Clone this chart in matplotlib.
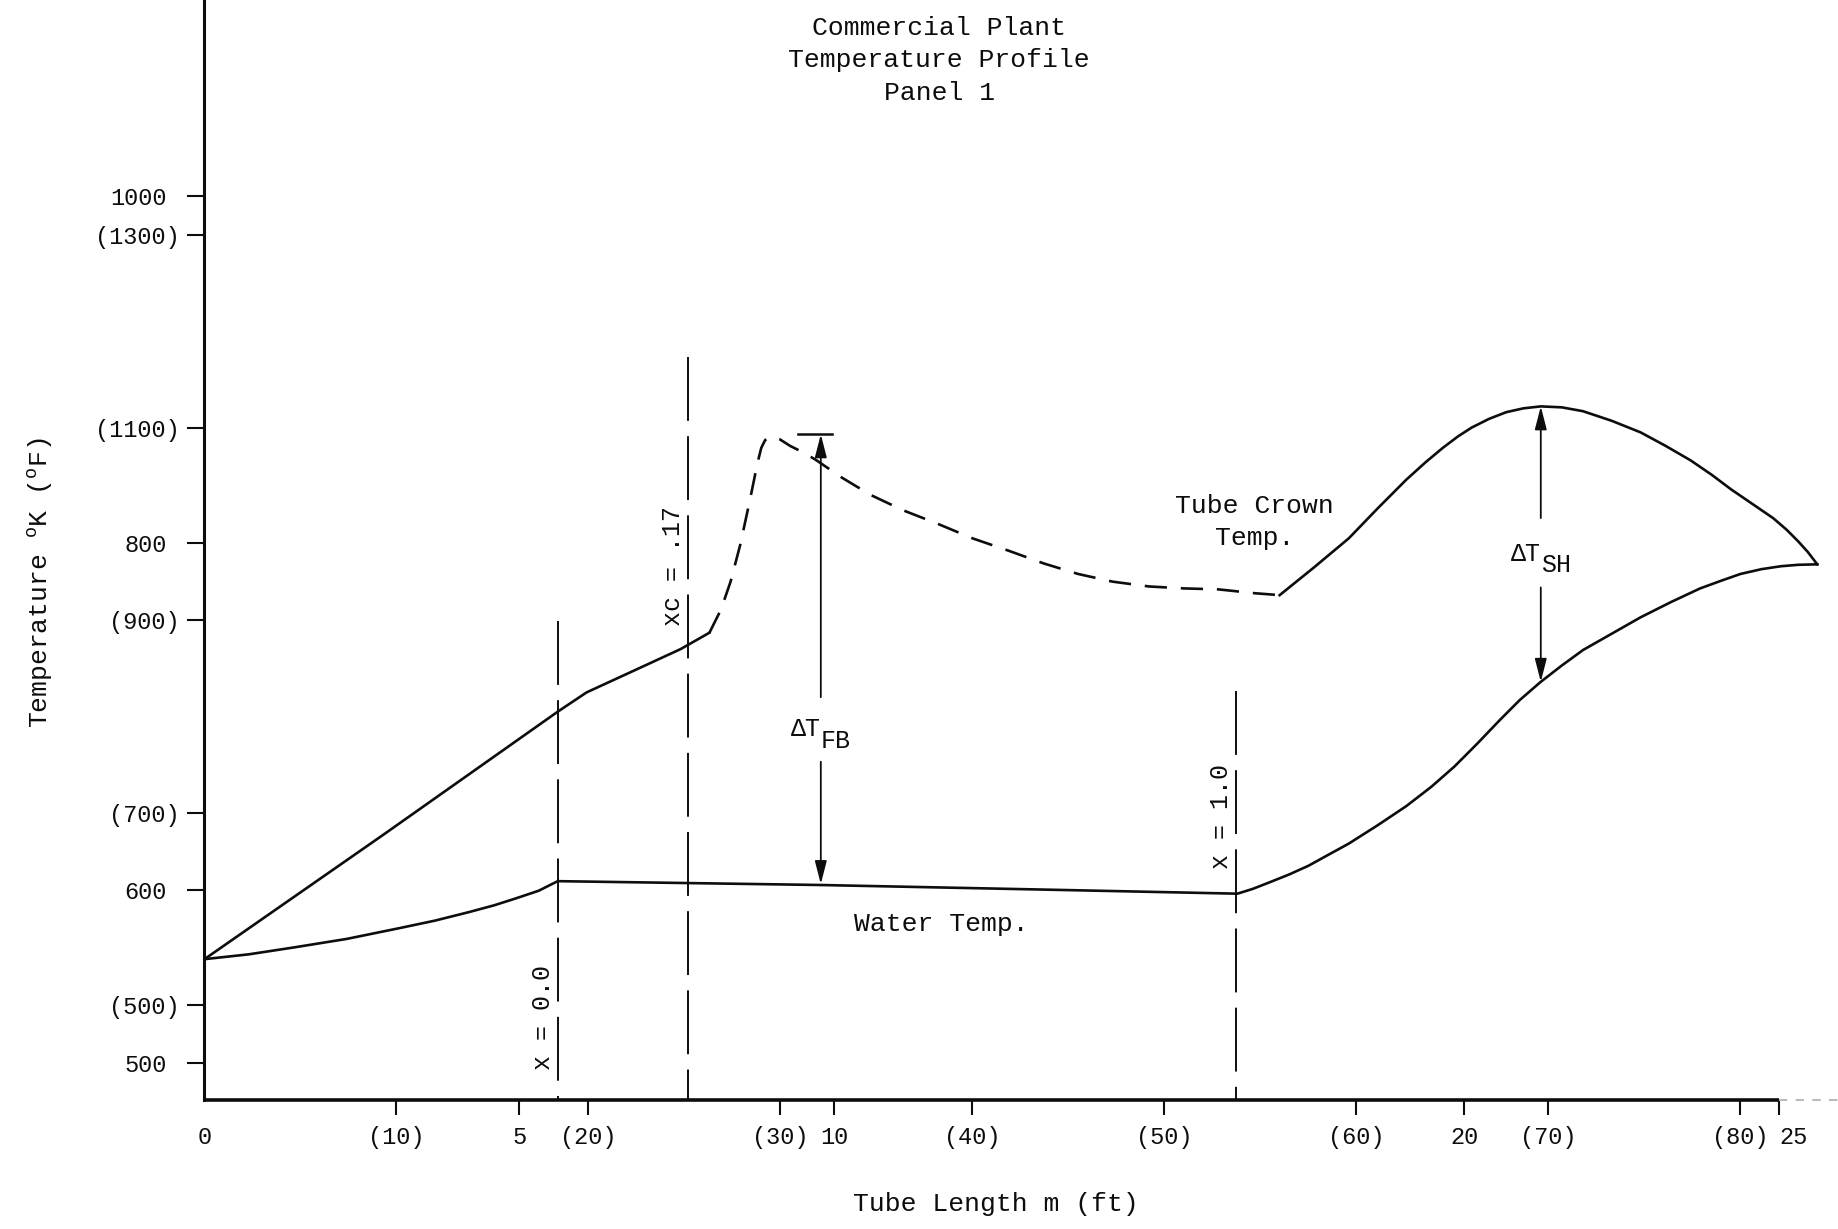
import numpy as np
import matplotlib.pyplot as plt

plt.rcParams['font.family'] = ['Liberation Mono', 'DejaVu Sans Mono']
plt.rcParams['mathtext.fontset'] = 'custom'
plt.rcParams['mathtext.rm'] = 'Liberation Mono'
plt.rcParams['mathtext.it'] = 'Liberation Mono:italic'
plt.rcParams['lines.scale_dashes'] = False

FT_PER_M = 1 / 0.3048

# water temperature along the tube, ft / deg F
water_ft = [0.0, 2.3, 4.6, 7.4, 10.1, 12.0, 13.8, 15.1, 16.2, 17.4, 18.4,
            32.1, 44.3, 53.8, 54.6, 55.5, 56.5, 57.5, 58.5, 59.6, 61.1, 62.6,
            63.9, 65.1, 66.3, 67.5, 68.5, 69.6, 70.7, 71.8, 73.3, 74.8, 76.4,
            77.9, 79.0, 80.0, 81.1, 82.1, 83.0, 84.0]
water_F = [548, 553, 560, 569, 580, 588, 597, 604, 611, 619, 629,
           625, 620, 616, 621, 628, 636, 645, 656, 668, 687, 707,
           727, 748, 772, 797, 817, 836, 853, 869, 886, 903, 919,
           933, 941, 948, 953, 956, 957.5, 958]

# tube crown temperature: nucleate boiling part (solid)
crown1_ft = [0.0, 9.3, 18.4, 19.9, 22.3, 24.8, 26.3]
crown1_F = [548, 677, 805, 825, 847, 870, 887]
# film boiling part (dashed)
crown2_ft = [26.3, 26.9, 27.4, 27.9, 28.4, 28.8, 29.0, 29.2, 29.45, 29.7,
             29.95, 30.5, 31.2, 31.8, 33.2, 34.7, 36.4, 38.2, 40.0, 41.9,
             43.7, 45.5, 47.3, 49.2, 51.0, 52.8, 54.7, 56.0]
crown2_F = [887, 911, 940, 978, 1024, 1063, 1079, 1087, 1090, 1090,
            1088, 1081, 1074, 1067, 1048, 1030, 1014, 1000, 985, 972,
            959, 948, 940, 935, 933, 932, 928, 926]
# superheated steam part (solid)
crown3_ft = [56.0, 57.8, 59.6, 61.1, 62.6, 63.6, 64.5, 65.3, 66.0, 66.9,
             67.8, 68.7, 69.6, 70.7, 71.8, 73.3, 74.8, 76.1, 77.4, 78.5,
             79.5, 80.6, 81.7, 82.4, 83.0, 83.5, 84.0]
crown3_F = [926, 955, 985, 1016, 1046, 1064, 1079, 1091, 1100, 1109,
            1116, 1120, 1122, 1121, 1117, 1107, 1095, 1081, 1066, 1051,
            1036, 1021, 1006, 994, 982, 971, 958]

# quality markers
quality_labels = ['x = 0.0', 'xc = .17', 'x = 1.0']
quality_ft = [18.4, 25.2, 53.7]
quality_top = [899, 1173, 826]
quality_text_F = [487, 956, 696]

# temperature differences
dtfb_ft, dtfb_top, dtfb_bot = 32.1, 1093, 626
dtfb_gap = (820, 753)
dtfb_cap = (30.9, 32.7)
dtsh_ft, dtsh_top, dtsh_bot = 69.6, 1122, 836
dtsh_gap = (1006, 934)

# axis ticks
kelvin_ticks = [1000, 800, 600, 500]
fahr_ticks = [1300, 1100, 900, 700, 500]
ft_ticks = [10, 20, 30, 40, 50, 60, 70, 80]
m_ticks = [5, 10, 20, 25]

xmin, xmax = 0, 85.08
ymin, ymax = 401.8, 1544

fig = plt.figure(figsize=(18.38, 12.29), dpi=100)
ax = fig.add_axes([0.11126, 0.1050, 0.88874, 0.8950])
ax.set_xlim(xmin, xmax)
ax.set_ylim(ymin, ymax)

ink = '#0d0d0d'

ax.plot(water_ft, water_F, color=ink, lw=1.9)
ax.plot(crown1_ft, crown1_F, color=ink, lw=1.9)
ax.plot(crown2_ft, crown2_F, color=ink, lw=1.9, linestyle=(0, (16, 10)))
ax.plot(crown3_ft, crown3_F, color=ink, lw=1.9)

# dashed quality lines, drawn top-down so each starts with a dash
for lab, xf, top, tf in zip(quality_labels, quality_ft, quality_top, quality_text_F):
    ax.plot([xf, xf], [top, ymin], color=ink, lw=1.4, linestyle=(0, (46, 11)))
    ax.text(xf - 0.15, tf, lab, rotation=90, ha='right', va='center',
            fontsize=18, color=ink)

# delta T arrows
arrow = dict(arrowstyle='-|>,head_length=0.7,head_width=0.18', color=ink,
             lw=1.3, mutation_scale=20, shrinkA=0, shrinkB=0)
ax.annotate('', xy=(dtfb_ft, dtfb_top), xytext=(dtfb_ft, dtfb_gap[0]), arrowprops=arrow)
ax.annotate('', xy=(dtfb_ft, dtfb_bot), xytext=(dtfb_ft, dtfb_gap[1]), arrowprops=arrow)
ax.plot(dtfb_cap, [dtfb_top, dtfb_top], color=ink, lw=1.8)
ax.annotate('', xy=(dtsh_ft, dtsh_top), xytext=(dtsh_ft, dtsh_gap[0]), arrowprops=arrow)
ax.annotate('', xy=(dtsh_ft, dtsh_bot), xytext=(dtsh_ft, dtsh_gap[1]), arrowprops=arrow)

ax.text(dtfb_ft, 787, 'ΔT', ha='right', va='center', fontsize=18, color=ink)
ax.text(dtfb_ft, 775, 'FB', ha='left', va='center', fontsize=18, color=ink)
ax.text(dtsh_ft, 969, 'ΔT', ha='right', va='center', fontsize=18, color=ink)
ax.text(dtsh_ft, 957, 'SH', ha='left', va='center', fontsize=18, color=ink)

ax.text(54.7, 1002, 'Tube Crown\nTemp.', ha='center', va='center',
        fontsize=19, color=ink, linespacing=1.45)
ax.text(38.4, 585, 'Water Temp.', ha='center', va='center', fontsize=19, color=ink)

# axes
for s in ['top', 'right', 'bottom']:
    ax.spines[s].set_visible(False)
ax.spines['left'].set_linewidth(2.2)
ax.spines['left'].set_color(ink)
x_end = 25 * FT_PER_M
ax.plot([0, x_end], [ymin, ymin], color=ink, lw=2.6, clip_on=False,
        solid_capstyle='butt')
ax.plot([x_end, xmax], [ymin, ymin], color='#bbbbbb', lw=1.5, clip_on=False,
        linestyle=(0, (6, 6)))

kelvin_pos = [k * 9 / 5 - 459.67 for k in kelvin_ticks]
ypos = kelvin_pos + fahr_ticks
ylab = [str(k) for k in kelvin_ticks] + ['(%d)' % f for f in fahr_ticks]
ax.set_yticks(ypos)
ax.set_yticklabels(ylab)
ax.tick_params(axis='y', direction='out', length=12, width=1.5, colors=ink,
               labelsize=17)
for i, t in enumerate(ax.yaxis.get_major_ticks()):
    t.set_pad(15 if i < len(kelvin_ticks) else 6)

xpos = [0] + ft_ticks + [m * FT_PER_M for m in m_ticks]
xlab = ['0'] + ['(%d)' % f for f in ft_ticks] + [str(m) for m in m_ticks]
ax.set_xticks(xpos)
ax.set_xticklabels(xlab)
ax.tick_params(axis='x', direction='out', length=11, width=1.5, colors=ink,
               labelsize=17, pad=8)
ax.xaxis.get_major_ticks()[0].tick1line.set_visible(False)
for lbl in ax.get_xticklabels():
    if lbl.get_text() == '25':
        lbl.set_ha('left')

fig.text(0.511, 0.951, 'Commercial Plant\nTemperature Profile\nPanel 1',
         ha='center', va='center', fontsize=19, color=ink, linespacing=1.45)
fig.text(0.542, 0.0203, 'Tube Length m (ft)', ha='center', va='center',
         fontsize=19, color=ink)
fig.text(0.0223, 0.526, r'Temperature $^{\mathrm{o}}$K ($^{\mathrm{o}}$F)',
         rotation=90, ha='center', va='center', fontsize=19, color=ink)

fig.savefig('out.png', dpi=100)
